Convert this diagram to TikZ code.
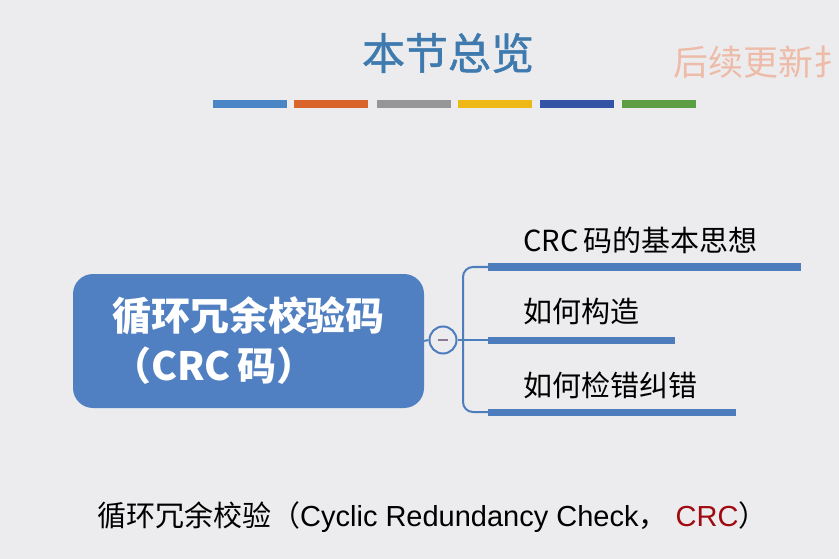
\documentclass[tikz,border=0pt]{standalone}
\usepackage{fontspec}
\setmainfont{Liberation Sans}
\newfontfamily\cjk{Noto Sans CJK SC}
\newfontfamily\cjkmed{Noto Sans CJK SC}[FakeBold=1.2]
\definecolor{bgc}{HTML}{ECECEE}
\definecolor{boxc}{HTML}{5080C1}
\definecolor{linec}{HTML}{4E7DBE}
\definecolor{titlec}{HTML}{3F7AAE}
\definecolor{updc}{HTML}{EDBBA8}
\definecolor{crcc}{HTML}{A00A10}
\definecolor{minusc}{HTML}{8A7A98}
\definecolor{cA}{HTML}{4A86C5}
\definecolor{cB}{HTML}{D9652B}
\definecolor{cC}{HTML}{969696}
\definecolor{cD}{HTML}{EEB816}
\definecolor{cE}{HTML}{3354A5}
\definecolor{cF}{HTML}{5E9E42}
\tikzset{
  colbar/.style={minimum width=74pt,minimum height=8pt,inner sep=0pt,fill=#1},
  mainbox/.style={fill=boxc,rounded corners=20pt,minimum width=351pt,minimum height=134pt,
    text=white,align=left,inner sep=0pt,font=\cjk\bfseries\fontsize{39}{50}\selectfont},
  conn/.style={draw=linec,line width=2pt},
  branchbar/.style={draw=linec,line width=7pt},
  leaf/.style={anchor=west,inner sep=0pt,font=\cjk\fontsize{29}{32}\selectfont,text=black},
}
\begin{document}
\begin{tikzpicture}[x=1pt,y=-1pt]
\fill[bgc] (0,0) rectangle (839,559);
\useasboundingbox (0,0) rectangle (839,559);
\clip (0,0) rectangle (839,559);
% title
\node[text=titlec,font=\cjkmed\fontsize{43}{45}\selectfont,inner sep=0pt] (title) at (448,53) {本节总览};
\node[text=updc,font=\cjk\fontsize{35}{38}\selectfont,anchor=west,inner sep=0pt] (upd) at (673,62) {后续更新扌};
% colour bars
\node[colbar=cA] (barA) at (250,104) {};
\node[colbar=cB] (barB) at (330.5,104) {};
\node[colbar=cC] (barC) at (413.5,104) {};
\node[colbar=cD] (barD) at (494.5,104) {};
\node[colbar=cE] (barE) at (576.5,104) {};
\node[colbar=cF] (barF) at (658.5,104) {};
% main box
\node[mainbox] (main) at (248.5,341) {循环冗余校验码\\（CRC\,码）};
% minus circle
\node[circle,draw=linec,line width=2pt,fill=bgc,minimum size=27pt,inner sep=0pt] (minus) at (443,340) {};
\draw[minusc,line width=2.5pt] ([xshift=-5pt]minus.center) -- ([xshift=5pt]minus.center);
% branch coordinates
\coordinate (b1s) at (488,267);
\coordinate (b1e) at (801,267);
\coordinate (b2s) at (488,340);
\coordinate (b2e) at (675,340);
\coordinate (b3s) at (488,412);
\coordinate (b3e) at (736,412);
\coordinate (brT) at (463,267);
\coordinate (brB) at (463,412);
% connectors
\draw[conn] (main.east) -- (minus.west);
\draw[conn] (minus.east) -- (b2s);
\draw[conn,rounded corners=10pt] (b1s) -- (brT) -- (brB) -- (b3s);
\draw[branchbar] (b1s) -- (b1e);
\draw[branchbar] (b2s) -- (b2e);
\draw[branchbar] (b3s) -- (b3e);
% leaves
\node[leaf] (l1) at (523,240) {CRC\,码的基本思想};
\node[leaf] (l2) at (523,311) {如何构造};
\node[leaf] (l3) at (523,385) {如何检错纠错};
% bottom text
\node[anchor=west,inner sep=0pt,font=\fontsize{29}{32}\selectfont] (bottom) at (97,517)
  {{\cjk 循环冗余校验（}Cyclic Redundancy Check{\cjk ，} \textcolor{crcc}{CRC}{\cjk ）}};
\end{tikzpicture}
\end{document}
